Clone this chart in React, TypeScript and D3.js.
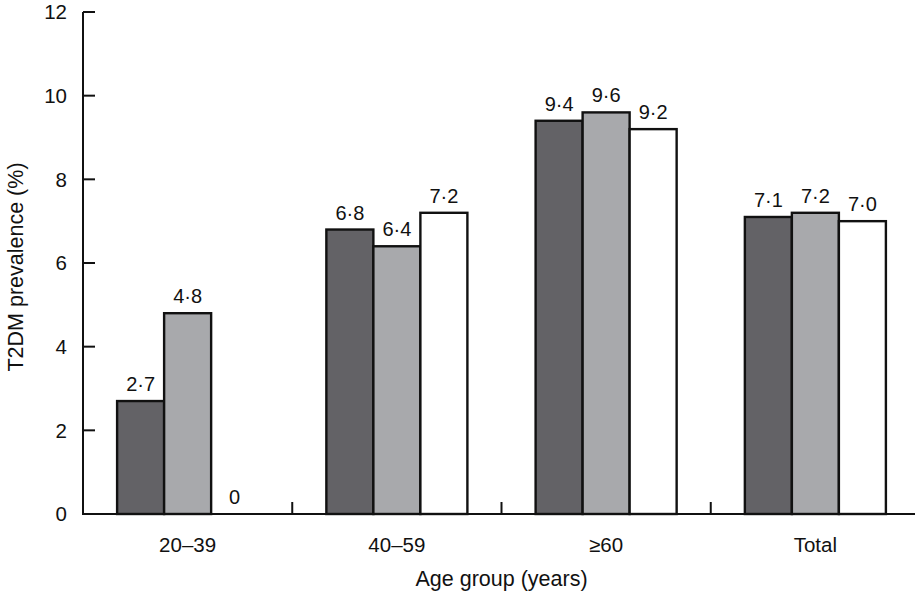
import React from "react";
import * as d3 from "d3";

const categories = ["20–39", "40–59", "≥60", "Total"];
const seriesNames = ["s1", "s2", "s3"];
const series1 = [2.7, 6.8, 9.4, 7.1];
const series2 = [4.8, 6.4, 9.6, 7.2];
const series3 = [0, 7.2, 9.2, 7.0];
const labels1 = ["2·7", "6·8", "9·4", "7·1"];
const labels2 = ["4·8", "6·4", "9·6", "7·2"];
const labels3 = ["0", "7·2", "9·2", "7·0"];
const yTicks = [0, 2, 4, 6, 8, 10, 12];
const colors = ["#636266", "#a8a9ac", "#ffffff"];

const W = 915;
const H = 592;
const FONT = "'Liberation Sans', Arial, Helvetica, sans-serif";

export default function App() {
  const x0 = 83;
  const x1 = 920;
  const yBase = 514;
  const yTop = 12;
  const x = d3.scaleBand<string>().domain(categories).range([x0, x1]).paddingInner(0).paddingOuter(0);
  const bw = x.bandwidth();
  const groupPad = 0.163;
  const xi = d3.scaleBand<string>().domain(seriesNames).range([bw * groupPad, bw * (1 - groupPad)]);
  const y = d3.scaleLinear().domain([0, 12]).range([yBase, yTop]);
  const data = [series1, series2, series3];
  const labs = [labels1, labels2, labels3];

  return (
    <svg width={W} height={H} style={{ position: "absolute", left: 0, top: 0, background: "#fff" }} fontFamily={FONT}>
      {categories.map((c, ci) => (
        <g key={c} transform={`translate(${x(c)},0)`}>
          {seriesNames.map((s, si) => {
            const v = data[si][ci];
            const bx = xi(s)!;
            return (
              <g key={s}>
                {v > 0 && (
                  <rect x={bx} y={y(v)} width={xi.bandwidth()} height={yBase - y(v)} fill={colors[si]} stroke="#111" strokeWidth={2.4} />
                )}
                <text x={bx + xi.bandwidth() / 2} y={y(v) - 10} textAnchor="middle" fontSize={20} fill="#111">
                  {labs[si][ci]}
                </text>
              </g>
            );
          })}
        </g>
      ))}
      {/* y axis */}
      <line x1={x0} x2={x0} y1={yTop} y2={yBase} stroke="#111" strokeWidth={2} />
      {yTicks.map((t) => (
        <g key={t}>
          <line x1={x0} x2={x0 + 12} y1={y(t)} y2={y(t)} stroke="#111" strokeWidth={2} />
          <text x={67} y={y(t)} dy="0.35em" textAnchor="end" fontSize={20.5} fill="#111">
            {t}
          </text>
        </g>
      ))}
      {/* x axis */}
      <line x1={x0 - 1} x2={x1} y1={yBase} y2={yBase} stroke="#111" strokeWidth={2} />
      {categories.map((c) => (
        <g key={c}>
          <line x1={x(c)! + bw} x2={x(c)! + bw} y1={yBase} y2={yBase - 12} stroke="#111" strokeWidth={2} />
          <text x={x(c)! + bw / 2} y={545} dy="0.35em" textAnchor="middle" fontSize={20.5} fill="#111">
            {c}
          </text>
        </g>
      ))}
      <text x={(x0 + x1) / 2} y={578} dy="0.35em" textAnchor="middle" fontSize={21.5} fill="#111">
        Age group (years)
      </text>
      <text transform={`translate(15,${(yTop + yBase) / 2 + 4}) rotate(-90)`} dy="0.35em" textAnchor="middle" fontSize={21.5} fill="#111">
        T2DM prevalence (%)
      </text>
    </svg>
  );
}
